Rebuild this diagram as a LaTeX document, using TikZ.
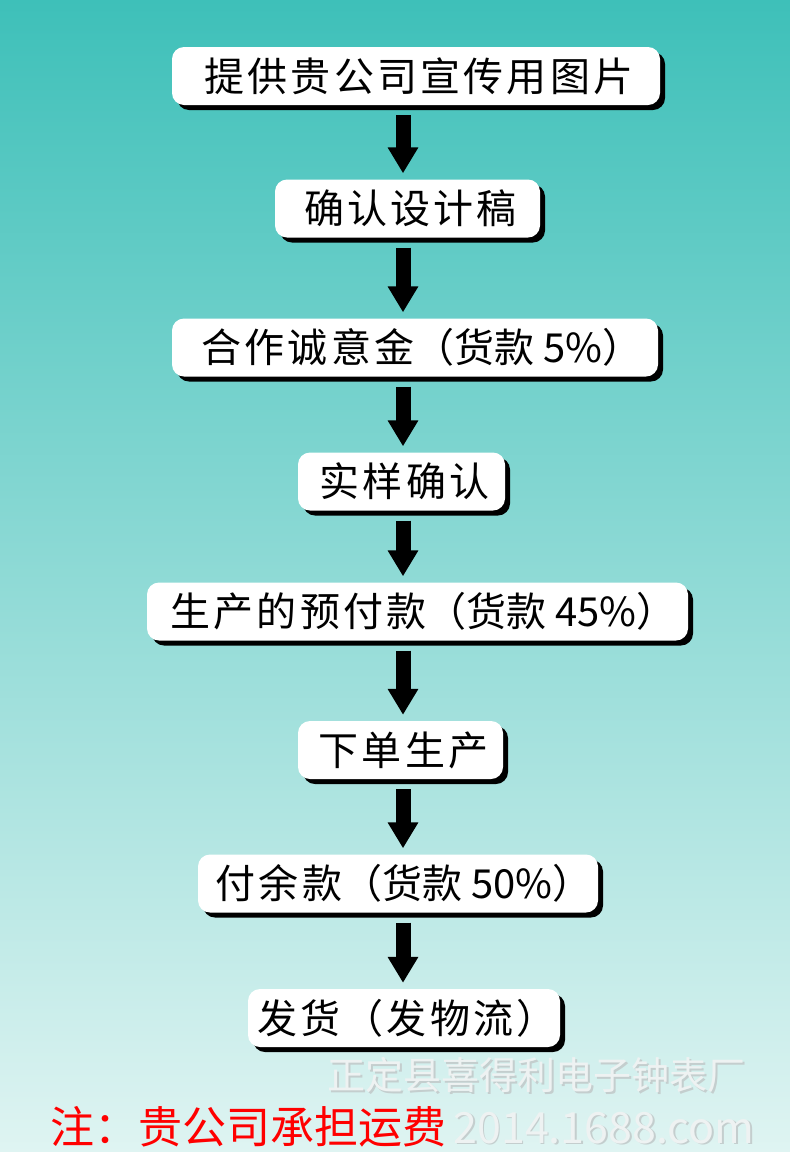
\documentclass[tikz,border=0pt]{standalone}
\usepackage{fontspec}
\setmainfont{Noto Sans CJK SC}
\usepackage{xcolor}
\usetikzlibrary{arrows.meta, shadows, math}
\definecolor{mytealtop}{RGB}{62,192,185}
\definecolor{mytealmid}{RGB}{122,211,206}
\definecolor{mytealbot}{RGB}{223,244,242}
\definecolor{myred}{RGB}{255,0,0}
\definecolor{mymark}{RGB}{238,242,242}
\definecolor{mymarkedge}{RGB}{196,206,206}
\newcommand{\spaced}[1]{{\addfontfeature{LetterSpace=8}#1}}

\begin{document}
\begin{tikzpicture}[x=1pt, y=-1pt,
  stepbox/.style={fill=white, rounded corners=12pt, inner sep=0pt, minimum height=58pt,
    font=\fontsize{40}{46}\selectfont,
    drop shadow={shadow xshift=5pt, shadow yshift=-5pt, fill=black, opacity=1}},
  flowarrow/.style={line width=15pt, -{Triangle[width=29pt,length=26pt]}, shorten <=10pt, shorten >=6pt},
  marktext/.style={anchor=west, text=mymark},
  markedge/.style={anchor=west, text=mymarkedge}]
\tikzmath{
\ax=403;
\W=790;
\H=1152;
}
\useasboundingbox (0,0) rectangle (\W,\H);
\shade[top color=mytealtop, middle color=mytealmid, bottom color=mytealbot] (0,0) rectangle (\W,\H);

\node[stepbox, minimum width=488pt] (b1) at (416,76) {\raisebox{-4pt}{\hspace*{6pt}\spaced{提供贵公司宣传用图片}}};
\node[stepbox, minimum width=265pt] (b2) at (407.5,208.5) {\hspace*{6pt}\spaced{确认设计稿}};
\node[stepbox, minimum width=486pt] (b3) at (415,347.5) {\hspace*{14pt}\spaced{合作诚意金}（货款 5\%）};
\node[stepbox, minimum width=207pt] (b4) at (401.5,481.5) {\hspace*{6pt}\spaced{实样确认}};
\node[stepbox, minimum width=541pt] (b5) at (417.5,611.5) {\hspace*{12pt}\spaced{生产的预付款}（货款 45\%）};
\node[stepbox, minimum width=205pt] (b6) at (400.5,750) {\hspace*{6pt}\spaced{下单生产}};
\node[stepbox, minimum width=400pt] (b7) at (398,883.5) {\hspace*{12pt}\spaced{付余款}（货款 50\%）};
\node[stepbox, minimum width=312pt] (b8) at (404,1018) {\hspace*{6pt}\spaced{发货（发物流）}};

\coordinate (ax) at (\ax,0);
\foreach \i [evaluate=\i as \j using int(\i+1)] in {1,...,7}
  \draw[flowarrow] (b\i.south -| ax) -- (b\j.north -| ax);

\node[markedge, font=\fontsize{38}{44}\selectfont] at (325.5,1076.5) {正定县喜得利电子钟表厂};
\node[marktext, font=\fontsize{38}{44}\selectfont] (mark1) at (324,1075) {正定县喜得利电子钟表厂};
\node[markedge, font=\fontsize{43}{48}\selectfont] at (451.5,1129.5) {2014.1688.com};
\node[marktext, font=\fontsize{43}{48}\selectfont] (mark2) at (450,1128) {2014.1688.com};

\node[anchor=west, text=myred, font=\fontsize{44}{50}\selectfont] (note) at (47,1127) {注：贵公司承担运费};
\end{tikzpicture}
\end{document}
